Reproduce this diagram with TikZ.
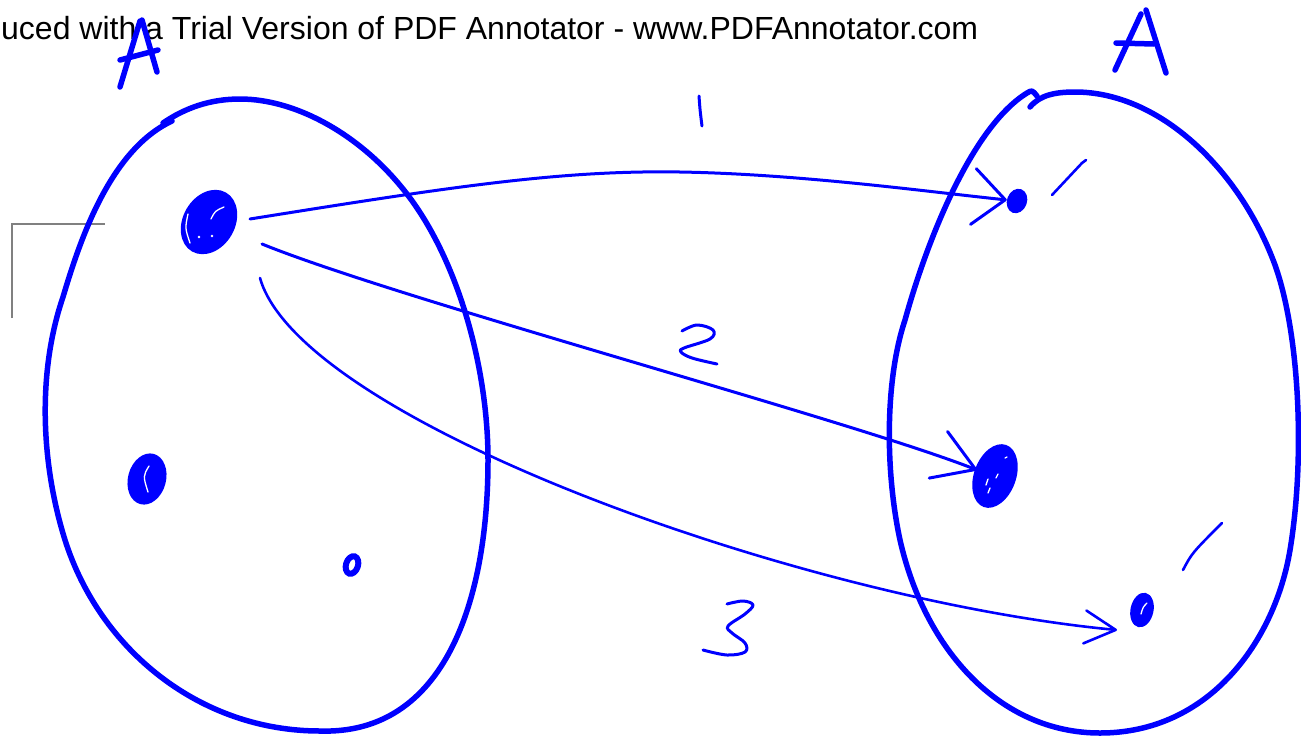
\documentclass[tikz,border=0pt]{standalone}
\usepackage{fontspec}
\setmainfont{Liberation Sans}
\usetikzlibrary{shapes.geometric,arrows.meta,calc}
\definecolor{pen}{RGB}{0,0,255}
\definecolor{framegray}{RGB}{128,128,128}
\begin{document}
\begin{tikzpicture}[x=1pt,y=-1pt,
  outline/.style={draw=pen,line width=5.5pt,line cap=round,line join=round},
  penstroke/.style={draw=pen,line width=3pt,line cap=round,line join=round},
  letterA/.style={draw=pen,line width=5.5pt,line cap=round,line join=round},
  conn/.style={draw=pen,line width=3pt,line cap=round},
  dotfill/.style={ellipse,fill=pen,inner sep=0pt},
  dotring/.style={ellipse,draw=pen,inner sep=0pt},
  glint/.style={draw=white,line width=1.3pt,line cap=round}]
\useasboundingbox (0,0) rectangle (1301,740);

% watermark text
\node[anchor=base west,inner sep=0pt,text=black,font=\fontsize{32}{36}\selectfont] (wm) at (1,39)
  {uced with a Trial Version of PDF Annotator - www.PDFAnnotator.com};

% grey bracket
\draw[framegray,line width=2pt] (12,318) -- (12,224) -- (105,224);

% left set outline
\draw[outline] (163,123) .. controls (185,108) and (210,99) .. (240,99)
  .. controls (300,99) and (370,140) .. (415,205)
  .. controls (460,270) and (488,370) .. (488,460)
  .. controls (488,600) and (445,735) .. (320,731)
  .. controls (200,731) and (100,650) .. (65,540)
  .. controls (40,460) and (38,370) .. (63,297)
  .. controls (80,240) and (110,150) .. (172,121);

% right set outline
\draw[outline] (1030,107) .. controls (1040,95) and (1055,92) .. (1075,92)
  .. controls (1160,92) and (1240,170) .. (1275,265)
  .. controls (1300,335) and (1305,460) .. (1290,550)
  .. controls (1275,640) and (1210,733) .. (1100,733)
  .. controls (1000,733) and (925,650) .. (900,540)
  .. controls (885,470) and (885,380) .. (905,320)
  .. controls (930,230) and (975,125) .. (1027,93)
  .. controls (1032,90) .. (1037,96);

% elements
\node[dotfill,minimum width=52pt,minimum height=68pt,rotate=-30] (a1) at (209,222) {};
\node[dotfill,minimum width=38pt,minimum height=52pt,rotate=-15] (a2) at (147,479) {};
\node[dotring,line width=6pt,minimum width=12pt,minimum height=18pt,rotate=-18] (a3) at (352,565) {};
\node[dotfill,minimum width=20pt,minimum height=25pt,rotate=-20] (b1) at (1017,201) {};
\node[dotfill,minimum width=42pt,minimum height=66pt,rotate=-20] (b2) at (995,476) {};
\node[dotfill,minimum width=23pt,minimum height=35pt,rotate=-12] (b3) at (1142,610) {};

% glints in the dots
\draw[glint] (211,219) .. controls (215,211) .. (224,207);
\draw[glint] (188,214) .. controls (185,228) .. (190,243);
\fill[white] (199,237) circle (1.3) (212,236) circle (1.3);
\draw[glint] (149,466) .. controls (143,476) .. (148,492);
\draw[glint] (1005,458) -- (1007,457);
\draw[glint] (986,485) -- (988,479);
\draw[glint] (996,478) -- (998,474);
\draw[glint] (988,493) -- (990,488);
\draw[glint] (1141,614) .. controls (1143,607) .. (1147,603);

% connectors
\draw[conn,-{Straight Barb[length=32pt,width=56pt,round]}]
  ($(a1)+(41,-3)$) .. controls (450,187) and (560,170) .. (680,172)
  .. controls (800,174) and (930,192) .. (b1);
\draw[conn,-{Straight Barb[length=40pt,width=50pt,round]}]
  ($(a1)+(53,22)$) .. controls (400,300) and (850,420) .. ($(b2)+(-18,-6)$);
\draw[conn,line width=2.6pt,-{Straight Barb[length=31pt,width=33pt,round]}]
  ($(a1)+(51,56)$) .. controls (300,420) and (800,600) .. ($(b3)+(-25,20)$);

% labels 1, 2, 3
\draw[penstroke] (699,96) .. controls (700,110) .. (702,126);
\draw[penstroke] plot[smooth,tension=0.6] coordinates {
 (682,331) (697,325) (713,330) (710,339) (684,348) (681,352) (692,358) (717,364)};
\draw[penstroke] plot[smooth,tension=0.6] coordinates {
 (727,604) (743,601) (753,605) (745,614) (728,626) (732,633) (745,643) (745,652)
 (727,655) (703,650)};

% tick marks
\draw[penstroke,line width=2.6pt] (1052,195) -- (1082,163) .. controls (1084,161) .. (1086,160);
\draw[penstroke,line width=2.6pt] (1183,570) .. controls (1192,553) .. (1222,523);

% letters A
\draw[letterA] (120,87) -- (140,21);
\draw[letterA] (142,20) -- (157,72);
\draw[letterA] (120,60) -- (158,50);
\draw[letterA] (1115,70) -- (1141,14);
\draw[letterA] (1146,10) -- (1166,73);
\draw[letterA] (1116,43) -- (1154,44);
\end{tikzpicture}
\end{document}
